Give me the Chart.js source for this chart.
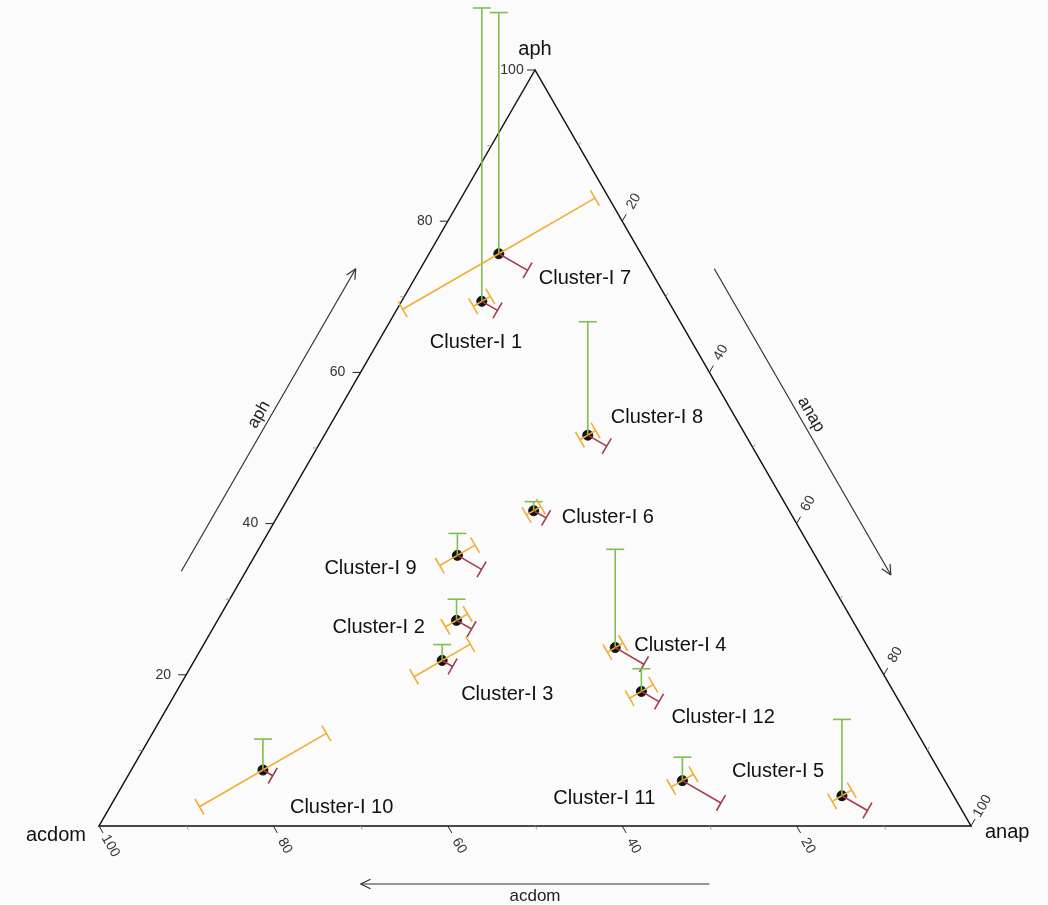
<!DOCTYPE html>
<html>
<head>
<meta charset="utf-8">
<script src="https://cdn.jsdelivr.net/npm/chart.js@4.4.1/dist/chart.umd.min.js"></script>
<style>
  body { margin: 0; background: #fbfbfb; }
</style>
</head>
<body>
<canvas id="myChart" width="1048" height="905"></canvas>
<script>
// cluster means (%) and standard deviations
const clusters = ['Cluster-I 1', 'Cluster-I 2', 'Cluster-I 3', 'Cluster-I 4', 'Cluster-I 5', 'Cluster-I 6',
                  'Cluster-I 7', 'Cluster-I 8', 'Cluster-I 9', 'Cluster-I 10', 'Cluster-I 11', 'Cluster-I 12'];
const aph   = [69.4, 27.2, 21.9, 23.6, 4.0, 41.7, 75.7, 51.7, 35.8, 7.4, 6.0, 17.8];
const anap  = [9.2, 27.4, 28.4, 47.4, 83.2, 29.0, 8.0, 30.2, 23.2, 15.1, 63.9, 53.3];
const acdom = [21.4, 45.4, 49.7, 29.0, 12.8, 29.3, 16.3, 18.1, 41.0, 77.5, 30.1, 28.9];
const aphSd   = [38.8, 2.8, 2.1, 13.0, 10.1, 1.2, 31.9, 15.0, 2.9, 4.1, 3.1, 3.0];
const anapSd  = [2.4, 2.3, 1.6, 4.4, 3.9, 1.9, 4.4, 2.9, 3.7, 1.5, 5.9, 2.7];
const acdomSd = [1.3, 1.7, 4.3, 1.2, 1.5, 1.1, 14.7, 1.2, 2.7, 9.7, 1.7, 1.8];
const tickValues = [20, 40, 60, 80, 100];

// where each cluster name sits relative to its point (px)
const labelDx = [-52, -124, 19, 19, -110, 28, 40, 23, -133, 27, -129, 30];
const labelDy = [41, 7, 34, -2, -24, 7, 25, -18, 13, 37, 18, 26];

const GREEN = '#7fbf4d', ORANGE = '#f1ae35', RED = '#a83a4c';

// ternary (aph, anap) -> cartesian values on the x/y scales (side = 100)
function toXY(a, n) { return { x: n + a / 2, y: a }; }
function pix(chart, a, n) {
  const p = toXY(a, n);
  return [chart.scales.x.getPixelForValue(p.x), chart.scales.y.getPixelForValue(p.y)];
}

function line(ctx, x1, y1, x2, y2) {
  ctx.beginPath(); ctx.moveTo(x1, y1); ctx.lineTo(x2, y2); ctx.stroke();
}
function bar(ctx, x1, y1, x2, y2, color) {
  ctx.strokeStyle = color; ctx.lineWidth = 1.6;
  line(ctx, x1, y1, x2, y2);
  const len = Math.hypot(x2 - x1, y2 - y1);
  if (len < 0.5) return;
  const ux = -(y2 - y1) / len * 9, uy = (x2 - x1) / len * 9;
  line(ctx, x2 - ux, y2 - uy, x2 + ux, y2 + uy);
}
function arrow(ctx, x1, y1, x2, y2) {
  ctx.strokeStyle = '#333'; ctx.lineWidth = 1.2;
  line(ctx, x1, y1, x2, y2);
  const ang = Math.atan2(y2 - y1, x2 - x1);
  for (const s of [-1, 1]) {
    const a = ang + Math.PI + s * 0.45;
    line(ctx, x2, y2, x2 + 11 * Math.cos(a), y2 + 11 * Math.sin(a));
  }
}
function rotText(ctx, txt, x, y, rot) {
  ctx.save(); ctx.translate(x, y); ctx.rotate(rot); ctx.fillText(txt, 0, 0); ctx.restore();
}

const ternaryPlugin = {
  id: 'ternary',
  beforeDatasetsDraw(chart) {
    const ctx = chart.ctx;
    const top = pix(chart, 100, 0), left = pix(chart, 0, 0), right = pix(chart, 0, 100);
    ctx.save();
    ctx.strokeStyle = '#111'; ctx.lineWidth = 1.5;
    ctx.beginPath();
    ctx.moveTo(top[0], top[1]); ctx.lineTo(left[0], left[1]); ctx.lineTo(right[0], right[1]); ctx.closePath();
    ctx.stroke();

    ctx.font = '14px "Liberation Sans", Arial, sans-serif';
    ctx.fillStyle = '#333';
    ctx.textAlign = 'center'; ctx.textBaseline = 'middle';
    const c60 = 0.5, s60 = Math.sqrt(3) / 2;
    const axes = [
      { at: v => pix(chart, v, 0), dx: -1, dy: 0, rot: 0 },              // aph on left edge
      { at: v => pix(chart, 100 - v, v), dx: c60, dy: -s60, rot: -Math.PI / 3 }, // anap on right edge
      { at: v => pix(chart, 0, 100 - v), dx: c60, dy: s60, rot: Math.PI / 3 }    // acdom on bottom edge
    ];
    for (const ax of axes) {
      for (let v = 10; v <= 100; v += 10) {
        const p = ax.at(v);
        const major = tickValues.includes(v);
        const L = major ? 8 : 4;
        ctx.strokeStyle = major ? '#222' : '#999'; ctx.lineWidth = 1;
        line(ctx, p[0], p[1], p[0] + ax.dx * L, p[1] + ax.dy * L);
        if (major) rotText(ctx, String(v), p[0] + ax.dx * 23, p[1] + ax.dy * 23, ax.rot);
      }
    }

    // vertex titles
    ctx.fillStyle = '#111';
    ctx.font = '20px "Liberation Sans", Arial, sans-serif';
    ctx.textAlign = 'center';
    ctx.fillText('aph', top[0], top[1] - 21);
    ctx.textAlign = 'right';
    ctx.fillText('acdom', left[0] - 13, left[1] + 9);
    ctx.textAlign = 'left';
    ctx.fillText('anap', right[0] + 14, right[1] + 6);

    // direction arrows outside each edge
    const along = (p, q, f) => [p[0] + (q[0] - p[0]) * f, p[1] + (q[1] - p[1]) * f];
    const off = (p, nx, ny, d) => [p[0] + nx * d, p[1] + ny * d];
    ctx.font = '17px "Liberation Sans", Arial, sans-serif';
    ctx.textAlign = 'center';
    // left edge, pointing up
    let n = [-s60, -c60];
    let a = off(along(left, top, 0.3), n[0], n[1], 56), b = off(along(left, top, 0.7), n[0], n[1], 56);
    arrow(ctx, a[0], a[1], b[0], b[1]);
    let m = off(along(left, top, 0.5), n[0], n[1], 67);
    ctx.fillStyle = '#222';
    rotText(ctx, 'aph', m[0], m[1], -Math.PI / 3);
    // right edge, pointing down
    n = [s60, -c60];
    a = off(along(top, right, 0.3), n[0], n[1], 56); b = off(along(top, right, 0.705), n[0], n[1], 56);
    arrow(ctx, a[0], a[1], b[0], b[1]);
    m = off(along(top, right, 0.5), n[0], n[1], 67);
    rotText(ctx, 'anap', m[0], m[1], Math.PI / 3);
    // bottom edge, pointing left
    a = off(along(left, right, 0.7), 0, 1, 58); b = off(along(left, right, 0.3), 0, 1, 58);
    arrow(ctx, a[0], a[1], b[0], b[1]);
    m = off(along(left, right, 0.5), 0, 1, 70);
    ctx.fillText('acdom', m[0], m[1]);
    ctx.restore();
  },
  afterDatasetsDraw(chart) {
    const ctx = chart.ctx;
    ctx.save();
    ctx.lineCap = 'butt';
    for (let i = 0; i < clusters.length; i++) {
      const a = aph[i], n = anap[i];
      const p = pix(chart, a, n);
      // aph: straight up
      const g = pix(chart, a + aphSd[i], n - aphSd[i] / 2);
      bar(ctx, p[0], p[1], g[0], g[1], GREEN);
      // acdom: both directions
      const s = acdomSd[i];
      const o1 = pix(chart, a - s / 2, n - s / 2), o2 = pix(chart, a + s / 2, n + s / 2);
      bar(ctx, p[0], p[1], o1[0], o1[1], ORANGE);
      bar(ctx, p[0], p[1], o2[0], o2[1], ORANGE);
      // anap: towards the anap corner
      const r = pix(chart, a - anapSd[i] / 2, n + anapSd[i]);
      bar(ctx, p[0], p[1], r[0], r[1], RED);
    }
    ctx.font = '20px "Liberation Sans", Arial, sans-serif';
    ctx.fillStyle = '#111';
    ctx.textAlign = 'left'; ctx.textBaseline = 'middle';
    for (let i = 0; i < clusters.length; i++) {
      const p = pix(chart, aph[i], anap[i]);
      ctx.fillText(clusters[i], p[0] + labelDx[i], p[1] + labelDy[i]);
    }
    ctx.restore();
  }
};

const points = aph.map((a, i) => toXY(a, anap[i]));

new Chart('myChart', {
  type: 'scatter',
  data: {
    datasets: [{
      data: points,
      pointRadius: 5,
      pointBackgroundColor: '#111',
      pointBorderColor: '#111',
      pointBorderWidth: 1,
      clip: false
    }]
  },
  options: {
    responsive: false,
    animation: false,
    layout: { autoPadding: false, padding: { left: 99, right: 77, top: 70, bottom: 79 } },
    scales: {
      x: { type: 'linear', min: 0, max: 100, display: false },
      y: { type: 'linear', min: 0, max: 100, display: false }
    },
    plugins: { legend: { display: false }, tooltip: { enabled: false } }
  },
  plugins: [ternaryPlugin]
});
</script>
</body>
</html>
